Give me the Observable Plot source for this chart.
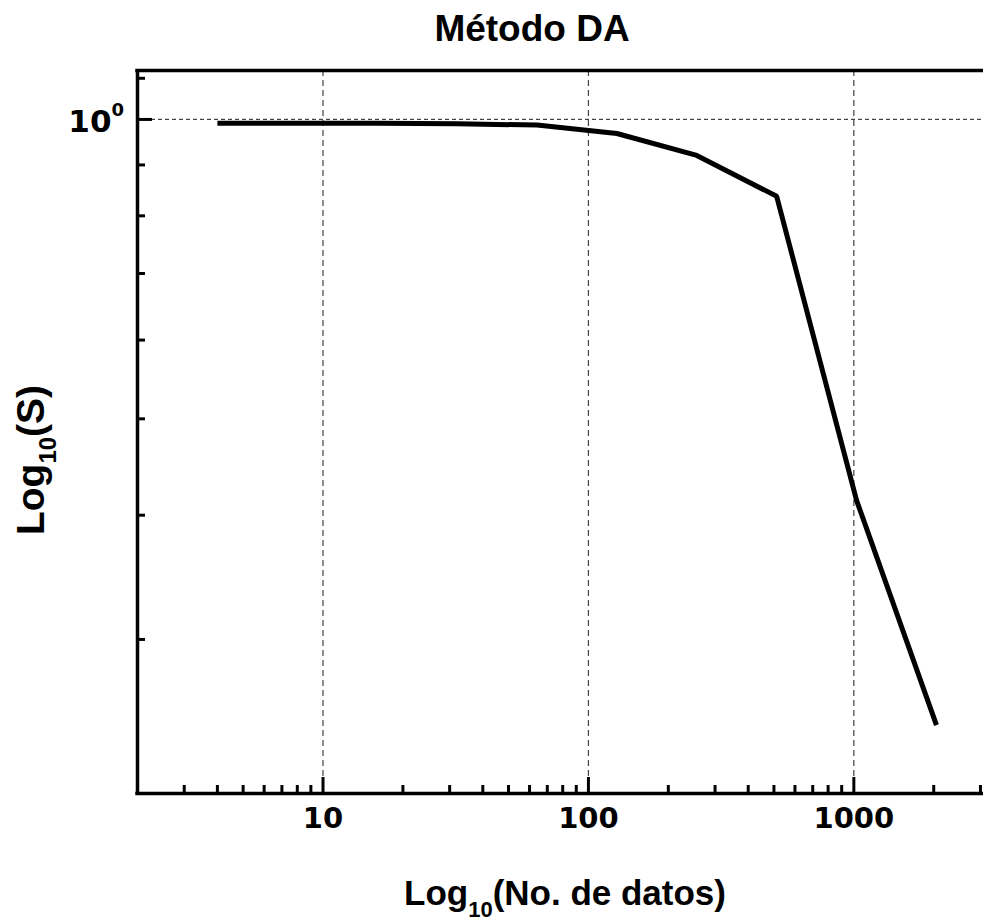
<!DOCTYPE html>
<html><head><meta charset="utf-8">
<script src="https://cdn.jsdelivr.net/npm/d3@7"></script>
<script src="https://cdn.jsdelivr.net/npm/@observablehq/plot@0.6"></script>
<style>body{margin:0;background:#fff;} svg{display:block;}</style>
</head><body><div id="chart"></div>
<script>
const numDatos = [4, 8, 16, 32, 64, 128, 256, 512, 1024, 2048];
const sValues = [0.991, 0.991, 0.991, 0.990, 0.987, 0.968, 0.920, 0.837, 0.414, 0.246];
const xMajorTicks = [10, 100, 1000];
const xTickLabels = ["10", "100", "1000"];
const xMinorTicks = [3,4,5,6,7,8,9,20,30,40,50,60,70,80,90,200,300,400,500,600,700,800,900,2000,3000];
const yMajorTicks = [1];
const yMinorTicks = [1.1, 0.9, 0.8, 0.7, 0.6, 0.5, 0.4, 0.3];
const xDomain = [2, 3080];
const yDomain = [0.21, 1.12];
const titleText = "Método DA";
const xLabelParts = ["Log", "10", "(No. de datos)"];
const yLabelParts = ["Log", "10", "(S)"];
const yTickLabel = ["10", "0"];

const data = numDatos.map((n, i) => ({n, s: sValues[i]}));

const chart = Plot.plot({
  width: 983,
  height: 922,
  marginTop: 70,
  marginBottom: 129,
  marginLeft: 137,
  marginRight: 0,
  style: {background: "#fff", overflow: "visible"},
  x: {type: "log", domain: xDomain},
  y: {type: "log", domain: yDomain},
  marks: [
    Plot.ruleX(xMajorTicks, {stroke: "#444", strokeWidth: 1.2, strokeDasharray: "6,4"}),
    Plot.ruleY(yMajorTicks, {stroke: "#444", strokeWidth: 1.2, strokeDasharray: "4,3"}),
    Plot.line(data, {x: "n", y: "s", stroke: "#000", strokeWidth: 5, strokeLinejoin: "miter", strokeLinecap: "butt"}),
    Plot.ruleX([xDomain[0]], {stroke: "#000", strokeWidth: 3.5}),
    Plot.ruleY([yDomain[0]], {stroke: "#000", strokeWidth: 3.5, strokeLinecap: "square"}),
    Plot.ruleY([yDomain[1]], {stroke: "#000", strokeWidth: 3.5, strokeLinecap: "square"}),
    Plot.axisX(xMinorTicks, {tickSize: -8, tickFormat: () => "", label: null, strokeWidth: 3, stroke: "#000"}),
    Plot.axisX(xMajorTicks, {tickSize: -16, tickFormat: () => "", label: null, strokeWidth: 3, stroke: "#000"}),
    Plot.axisY(yMinorTicks, {tickSize: -8, tickFormat: () => "", label: null, strokeWidth: 3, stroke: "#000"}),
    Plot.axisY(yMajorTicks, {tickSize: -15, tickFormat: () => "", label: null, strokeWidth: 3, stroke: "#000"}),
    Plot.text(xMajorTicks, {x: d => d, text: (d, i) => xTickLabels[i], frameAnchor: "bottom", lineAnchor: "top", dy: 14, fontSize: 29, fontWeight: "bold", fontFamily: "DejaVu Sans", fill: "#000"})
  ]
});
document.getElementById("chart").appendChild(chart);

const svg = d3.select(chart);
svg.append("text")
  .attr("x", 532).attr("y", 41)
  .attr("text-anchor", "middle")
  .attr("font-family", "Liberation Sans, Arial, sans-serif")
  .attr("font-weight", "bold").attr("font-size", 37).attr("fill", "#000")
  .text(titleText);

const y0 = chart.scale("y").apply(yMajorTicks[0]);
const yt = svg.append("text")
  .attr("x", 124).attr("y", y0 + 13)
  .attr("text-anchor", "end")
  .attr("font-family", "DejaVu Sans, sans-serif")
  .attr("font-weight", "bold").attr("font-size", 31).attr("fill", "#000");
yt.append("tspan").text(yTickLabel[0]);
yt.append("tspan").attr("font-size", 18).attr("dy", -16).text(yTickLabel[1]);

function addLabel(parts, x, y, rotate, size) {
  const t = svg.append("text")
    .attr("text-anchor", "middle")
    .attr("font-family", "Liberation Sans, Arial, sans-serif")
    .attr("font-weight", "bold").attr("font-size", size).attr("fill", "#000")
    .attr("transform", `translate(${x},${y})` + (rotate ? " rotate(-90)" : ""));
  t.append("tspan").text(parts[0]);
  t.append("tspan").attr("font-size", Math.round(size * 0.62)).attr("dy", 12).text(parts[1]);
  t.append("tspan").attr("dy", -12).text(parts[2]);
}
addLabel(xLabelParts, 565, 905, false, 35);
addLabel(yLabelParts, 44, 460, true, 39);
</script></body></html>
